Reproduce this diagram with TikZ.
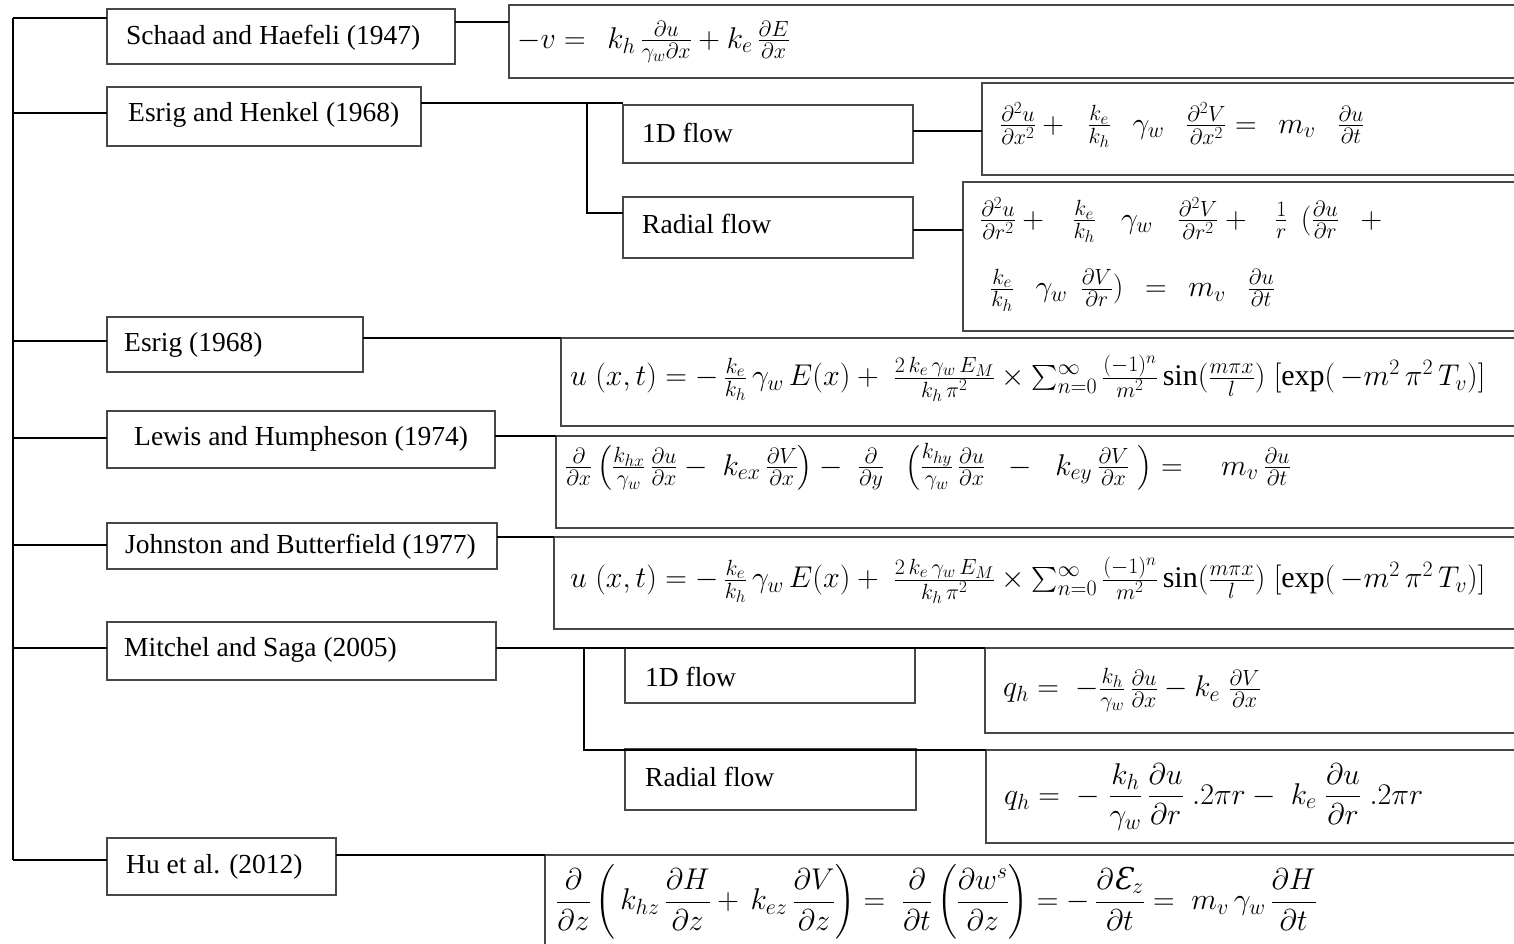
\documentclass[tikz,border=0pt]{standalone}
\usepackage{fix-cm}
\usepackage{amsmath}
\usepackage{fontspec}
\setmainfont{Liberation Serif}
\newfontfamily\dvs{DejaVu Serif}
\DeclareMathSizes{30}{30}{22}{17}
\usetikzlibrary{calc}
\begin{document}
\begin{tikzpicture}[x=1pt,y=-1pt,
  box/.style={draw=black!72, line width=1.1pt, inner sep=0pt, outer sep=0pt, anchor=north west},
  conn/.style={line width=2.2pt, black},
  lbl/.style={anchor=west, inner sep=0pt, font=\fontsize{27.5}{33}\selectfont},
  eqn/.style={anchor=west, inner sep=0pt, font=\fontsize{30}{36}\selectfont}]
\useasboundingbox (0,0) rectangle (1514,944);
\clip (0,0) rectangle (1514,944);
% left column boxes
\node[box, minimum width=348, minimum height=55] (b1) at (107,9) {};
\node[box, minimum width=314, minimum height=59] (b2) at (107,87) {};
\node[box, minimum width=256, minimum height=55] (b3) at (107,317) {};
\node[box, minimum width=388, minimum height=57] (b4) at (107,411) {};
\node[box, minimum width=390, minimum height=46] (b5) at (107,523) {};
\node[box, minimum width=389, minimum height=58] (b6) at (107,622) {};
\node[box, minimum width=229, minimum height=57] (b7) at (107,838) {};
% flow boxes
\node[box, minimum width=290, minimum height=58] (f1) at (623,105) {};
\node[box, minimum width=290, minimum height=61] (f2) at (623,197) {};
\node[box, minimum width=290, minimum height=55] (f3) at (625,648) {};
\node[box, minimum width=291, minimum height=61] (f4) at (625,749) {};
% equation boxes
\node[box, minimum width=1011, minimum height=73] (e1) at (509,5) {};
\node[box, minimum width=538, minimum height=92] (e2) at (982,83) {};
\node[box, minimum width=557, minimum height=149] (e3) at (963,182) {};
\node[box, minimum width=959, minimum height=88] (e4) at (561,338) {};
\node[box, minimum width=964, minimum height=92] (e5) at (556,436) {};
\node[box, minimum width=966, minimum height=92] (e6) at (554,537) {};
\node[box, minimum width=535, minimum height=85] (e7) at (985,648) {};
\node[box, minimum width=534, minimum height=93] (e8) at (986,750) {};
\node[box, minimum width=975, minimum height=100] (e9) at (545,855) {};
% labels
\node[lbl] (t1) at (126,38) {Schaad and Haefeli (1947)};
\node[lbl] (t2) at (128,115) {Esrig and Henkel (1968)};
\node[lbl] (t3) at (124,345) {Esrig (1968)};
\node[lbl] (t4) at (134,439) {Lewis and Humpheson (1974)};
\node[lbl] (t5) at (125,547) {Johnston and Butterfield (1977)};
\node[lbl] (t6) at (124,650) {Mitchel and Saga (2005)};
\node[lbl] (t7) at (126,867) {Hu et al. (2012)};
\node[lbl] (t8) at (642,133) {1D flow};
\node[lbl] (t9) at (642,224) {Radial flow};
\node[lbl] (t10) at (645,677) {1D flow};
\node[lbl] (t11) at (645,777) {Radial flow};
% equations
\node[eqn] (q1) at (517,42) {$-v =\;\, k_h\, \frac{\partial u}{\gamma_w \partial x} + k_e\, \frac{\partial E}{\partial x}$};
\node[eqn] (q2) at (1000,125) {$\frac{\partial^2 u}{\partial x^2} +\;\; \frac{k_e}{k_h}\;\;\, \gamma_w\;\;\, \frac{\partial^2 V}{\partial x^2} =\;\, m_v\;\;\, \frac{\partial u}{\partial t}$};
\node[eqn] (q3a) at (980,220) {$\frac{\partial^2 u}{\partial r^2} +\;\;\, \frac{k_e}{k_h}\;\;\; \gamma_w\;\;\; \frac{\partial^2 V}{\partial r^2} +\;\;\, \frac{1}{r}\;\,(\frac{\partial u}{\partial r}\;\;\, +$};
\node[eqn] (q3b) at (990,290) {$\frac{k_e}{k_h}\;\;\, \gamma_w\;\, \frac{\partial V}{\partial r}) \;\,=\;\, m_v\;\;\, \frac{\partial u}{\partial t}$};
\node[eqn] (q4) at (570,378) {$u\;(x,t) = -\,\frac{k_e}{k_h}\,\gamma_w\,E(x) +\; \frac{2\,k_e\,\gamma_w\,E_M}{k_h\,\pi^2} \times \sum_{n=0}^{\infty}\frac{(-1)^n}{m^2}\sin(\frac{m\pi x}{l})\;[\exp(\,-m^2\,\pi^2\,T_v)]$};
\node[eqn] (q5) at (565,467) {$\frac{\partial}{\partial x}\left(\frac{k_{hx}}{\gamma_w}\,\frac{\partial u}{\partial x} -\; k_{ex}\,\frac{\partial V}{\partial x}\right) -\; \frac{\partial}{\partial y}\;\;\left(\frac{k_{hy}}{\gamma_w}\,\frac{\partial u}{\partial x}\;\; -\;\; k_{ey}\,\frac{\partial V}{\partial x}\;\right) =\quad m_v\,\frac{\partial u}{\partial t}$};
\node[eqn] (q6) at (570,580) {$u\;(x,t) = -\,\frac{k_e}{k_h}\,\gamma_w\,E(x) +\; \frac{2\,k_e\,\gamma_w\,E_M}{k_h\,\pi^2} \times \sum_{n=0}^{\infty}\frac{(-1)^n}{m^2}\sin(\frac{m\pi x}{l})\;[\exp(\,-m^2\,\pi^2\,T_v)]$};
\node[eqn] (q7) at (1003,690) {$q_h =\; -\frac{k_h}{\gamma_w}\,\frac{\partial u}{\partial x} - k_e\;\frac{\partial V}{\partial x}$};
\node[eqn] (q8) at (1004,797) {$q_h =\; -\;\dfrac{k_h}{\gamma_w}\,\dfrac{\partial u}{\partial r}\;.2\pi r -\; k_e\;\dfrac{\partial u}{\partial r}\;.2\pi r$};
\node[eqn] (q9) at (556,902) {$\dfrac{\partial}{\partial z}\left(\,k_{hz}\,\dfrac{\partial H}{\partial z} +\, k_{ez}\,\dfrac{\partial V}{\partial z}\right) =\; \dfrac{\partial}{\partial t}\left(\dfrac{\partial w^s}{\partial z}\right) = -\,\dfrac{\partial \mbox{\dvs\itshape Ɛ}_z}{\partial t} =\; m_v\,\gamma_w\,\dfrac{\partial H}{\partial t}$};
% spine
\coordinate (s0) at (13,18);
\coordinate (s7) at (13,860);
\draw[conn] (s0) -- (s7);
\coordinate (s2) at (13,113);
\coordinate (s3) at (13,341);
\coordinate (s4) at (13,438);
\coordinate (s5) at (13,545);
\coordinate (s6) at (13,648);
\draw[conn] (s0) -- (s0 -| b1.west);
\draw[conn] (s2) -- (s2 -| b2.west);
\draw[conn] (s3) -- (s3 -| b3.west);
\draw[conn] (s4) -- (s4 -| b4.west);
\draw[conn] (s5) -- (s5 -| b5.west);
\draw[conn] (s6) -- (s6 -| b6.west);
\draw[conn] (s7) -- (s7 -| b7.west);
% right connectors
\coordinate (c1) at (0,22);
\draw[conn] (b1.east |- c1) -- (e1.west |- c1);
\coordinate (j1) at (587,103);
\coordinate (j2) at (587,213);
\draw[conn] (b2.east |- j1) -- (j1) -- (j1 -| f1.west);
\draw[conn] (j1) -- (j2) -- (j2 -| f2.west);
\coordinate (c2) at (0,131);
\draw[conn] (f1.east |- c2) -- (e2.west |- c2);
\coordinate (c3) at (0,230);
\draw[conn] (f2.east |- c3) -- (e3.west |- c3);
\draw[conn] (b3.east |- e4.north) -- (e4.north west);
\draw[conn] (b4.east |- e5.north) -- (e5.north west);
\draw[conn] (b5.east |- e6.north) -- (e6.north west);
\coordinate (j3) at (584,648);
\coordinate (j4) at (584,750);
\draw[conn] (b6.east |- j3) -- (j3) -- (j3 -| e7.west);
\draw[conn] (j3) -- (j4) -- (j4 -| e8.west);
\draw[conn] (b7.east |- e9.north) -- (e9.north west);
\end{tikzpicture}
\end{document}
